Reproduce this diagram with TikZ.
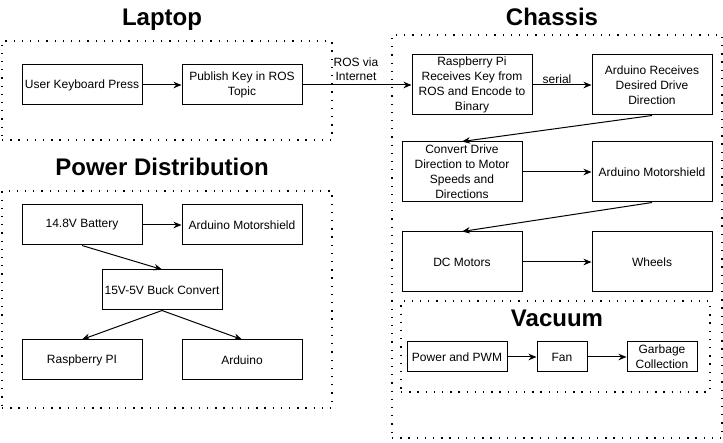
\documentclass[tikz,border=0pt]{standalone}
\usepackage{fontspec}
\setmainfont{Liberation Sans}
\usetikzlibrary{arrows.meta}
\begin{document}
\begin{tikzpicture}[x=1pt,y=-1pt,
  box/.style={draw, line width=1pt, inner sep=1pt, align=center, font=\fontsize{12}{15}\selectfont},
  container/.style={draw, line width=1.3pt, dash pattern=on 1.3pt off 6.9pt, inner sep=0pt},
  ttl/.style={font=\fontsize{24}{28}\selectfont\bfseries, anchor=base},
  lbl/.style={font=\fontsize{12}{14.4}\selectfont, align=center, inner sep=0pt},
  arr/.style={-{Stealth[length=8pt,width=6.5pt,inset=2.5pt]}, line width=1pt}]
\useasboundingbox (0,0) rectangle (723,443);
% containers
\node[container, minimum width=330pt, minimum height=99pt] (laptopbox) at (167,90.5) {};
\node[container, minimum width=330pt, minimum height=217pt] (powerbox) at (167,299.5) {};
\node[container, minimum width=330pt, minimum height=403pt] (chassisbox) at (557,236.5) {};
\node[container, minimum width=309pt, minimum height=91pt] (vacuumbox) at (555.5,346.5) {};
% titles
\node[ttl] (tlaptop) at (162,26) {Laptop};
\node[ttl] (tchassis) at (552,26) {Chassis};
\node[ttl] (tpower) at (162,176) {Power Distribution};
\node[ttl] (tvacuum) at (557,327) {Vacuum};
% laptop
\node[box, minimum width=120pt, minimum height=40pt] (kbd) at (82,85) {User Keyboard Press};
\node[box, minimum width=120pt, minimum height=40pt] (pub) at (242,85) {Publish Key in ROS\\Topic};
% chassis
\node[box, minimum width=120pt, minimum height=60pt] (rpi1) at (472,85) {Raspberry Pi\\Receives Key from\\ROS and Encode to\\Binary};
\node[box, minimum width=120pt, minimum height=60pt] (arecv) at (652,85) {Arduino Receives\\Desired Drive\\Direction};
\node[box, minimum width=120pt, minimum height=60pt] (conv) at (462,172) {Convert Drive\\Direction to Motor\\Speeds and\\Directions};
\node[box, minimum width=120pt, minimum height=60pt] (ams) at (652,172) {Arduino Motorshield};
\node[box, minimum width=120pt, minimum height=60pt] (dc) at (462,262) {DC Motors};
\node[box, minimum width=120pt, minimum height=60pt] (wheels) at (652,262) {Wheels};
% vacuum
\node[box, minimum width=100pt, minimum height=30pt] (pwm) at (457,357) {Power and PWM};
\node[box, minimum width=50pt, minimum height=30pt] (fan) at (562,357) {Fan};
\node[box, minimum width=70pt, minimum height=30pt] (garb) at (662,357) {Garbage\\Collection};
% power
\node[box, minimum width=120pt, minimum height=40pt] (bat) at (82,225) {14.8V Battery};
\node[box, minimum width=120pt, minimum height=40pt] (pms) at (242,225) {Arduino Motorshield};
\node[box, minimum width=120pt, minimum height=40pt] (buck) at (162,290) {15V-5V Buck Convert};
\node[box, minimum width=120pt, minimum height=40pt] (rpi2) at (82,360) {Raspberry PI};
\node[box, minimum width=120pt, minimum height=40pt] (ard) at (242,360) {Arduino};
% labels
\node[lbl] (lros) at (356,69) {ROS via\\Internet};
\node[lbl] (lser) at (557,79) {serial};
% connectors
\draw[arr] (kbd) -- (pub);
\draw[arr] (pub) -- (rpi1);
\draw[arr] (rpi1) -- (arecv);
\draw[arr] (arecv.south) -- (conv.north);
\draw[arr] (conv) -- (ams);
\draw[arr] (ams.south) -- (dc.north);
\draw[arr] (dc) -- (wheels);
\draw[arr] (pwm) -- (fan);
\draw[arr] (fan) -- (garb);
\draw[arr] (bat) -- (pms);
\draw[arr] (bat.south) -- (buck.north);
\draw[arr] (buck.south) -- (rpi2.north);
\draw[arr] (buck.south) -- (ard.north);
\end{tikzpicture}
\end{document}
